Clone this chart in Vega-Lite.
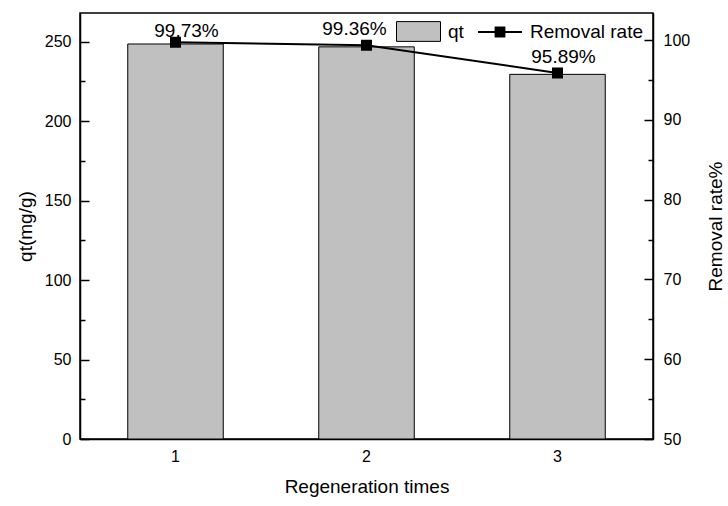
{
  "$schema": "https://vega.github.io/schema/vega-lite/v6.json",
  "width": 573,
  "height": 426,
  "autosize": {"type": "none"},
  "padding": {"left": 80, "top": 13, "right": 75, "bottom": 67},
  "background": "white",
  "config": {
    "font": "Liberation Sans",
    "view": {"stroke": "black", "strokeWidth": 1.5},
    "axis": {
      "grid": false,
      "domainColor": "black",
      "domainWidth": 1.5,
      "tickColor": "black",
      "tickWidth": 1.5,
      "labelColor": "black",
      "labelFontSize": 16,
      "titleColor": "black",
      "titleFontSize": 19,
      "titleFontWeight": "normal"
    },
    "legend": {
      "orient": "none",
      "direction": "horizontal",
      "padding": 0,
      "labelFontSize": 19,
      "labelColor": "black",
      "labelOffset": 7,
      "symbolSize": 1936,
      "symbolOpacity": 1
    }
  },
  "data": {
    "values": [
      {"n": "1", "qt": 248.5, "rate": 99.73, "label": "99.73%"},
      {"n": "2", "qt": 246.7, "rate": 99.36, "label": "99.36%"},
      {"n": "3", "qt": 229.4, "rate": 95.89, "label": "95.89%"}
    ]
  },
  "encoding": {
    "x": {
      "field": "n",
      "type": "ordinal",
      "scale": {"paddingInner": 0.5, "paddingOuter": 0.25},
      "axis": {
        "title": "Regeneration times",
        "labelAngle": 0,
        "tickSize": -9,
        "labelPadding": 18,
        "titlePadding": 13
      }
    }
  },
  "layer": [
    {
      "mark": {"type": "bar", "stroke": "black", "strokeWidth": 1},
      "encoding": {
        "y": {
          "field": "qt",
          "type": "quantitative",
          "scale": {"domain": [0, 268], "nice": false},
          "axis": {
            "orient": "left",
            "title": "qt(mg/g)",
            "values": [0, 50, 100, 150, 200, 250],
            "tickSize": -9,
            "labelPadding": 18,
            "titlePadding": 9
          }
        },
        "fill": {
          "datum": "qt",
          "scale": {"domain": ["qt"], "range": ["#c0c0c0"]},
          "legend": {
            "title": null,
            "legendX": 316,
            "legendY": -4,
            "symbolType": "M-1,-0.45H1V0.45H-1Z",
            "symbolStrokeColor": "black",
            "symbolStrokeWidth": 1
          }
        }
      }
    },
    {
      "mark": {"type": "bar", "opacity": 0},
      "encoding": {
        "y": {
          "field": "qt",
          "type": "quantitative",
          "scale": {"domain": [0, 268], "nice": false},
          "axis": {
            "orient": "left",
            "title": null,
            "values": [25, 75, 125, 175, 225],
            "labels": false,
            "domain": false,
            "tickSize": -5
          }
        }
      }
    },
    {
      "mark": {"type": "line", "strokeWidth": 2, "point": {"filled": true, "shape": "square", "size": 81, "color": "black", "opacity": 1}},
      "encoding": {
        "y": {
          "field": "rate",
          "type": "quantitative",
          "scale": {"domain": [50, 103.4], "nice": false, "zero": false},
          "axis": {
            "orient": "right",
            "title": "Removal rate%",
            "titleAngle": 270,
            "values": [50, 60, 70, 80, 90, 100],
            "tickSize": -9,
            "labelPadding": 19,
            "titlePadding": 36
          }
        },
        "stroke": {
          "datum": "Removal rate",
          "scale": {"domain": ["Removal rate"], "range": ["#000000"]},
          "legend": {
            "title": null,
            "legendX": 397,
            "legendY": -4,
            "symbolType": "M-1,0H1M-0.2,-0.2H0.2V0.2H-0.2Z",
            "symbolFillColor": "black",
            "symbolStrokeWidth": 2
          }
        }
      }
    },
    {
      "mark": {"type": "bar", "opacity": 0},
      "encoding": {
        "y": {
          "field": "rate",
          "type": "quantitative",
          "scale": {"domain": [50, 103.4], "nice": false, "zero": false},
          "axis": {
            "orient": "right",
            "title": null,
            "values": [55, 65, 75, 85, 95],
            "labels": false,
            "domain": false,
            "tickSize": -5
          }
        }
      }
    },
    {
      "transform": [{"filter": "datum.n === '1'"}],
      "mark": {"type": "text", "fontSize": 19, "color": "black", "baseline": "alphabetic", "dx": 11, "dy": -5},
      "encoding": {
        "y": {"field": "rate", "type": "quantitative", "scale": {"domain": [50, 103.4], "nice": false, "zero": false}, "axis": null},
        "text": {"field": "label"}
      }
    },
    {
      "transform": [{"filter": "datum.n === '2'"}],
      "mark": {"type": "text", "fontSize": 19, "color": "black", "baseline": "alphabetic", "dx": -12, "dy": -10},
      "encoding": {
        "y": {"field": "rate", "type": "quantitative", "scale": {"domain": [50, 103.4], "nice": false, "zero": false}, "axis": null},
        "text": {"field": "label"}
      }
    },
    {
      "transform": [{"filter": "datum.n === '3'"}],
      "mark": {"type": "text", "fontSize": 19, "color": "black", "baseline": "alphabetic", "dx": 6, "dy": -10},
      "encoding": {
        "y": {"field": "rate", "type": "quantitative", "scale": {"domain": [50, 103.4], "nice": false, "zero": false}, "axis": null},
        "text": {"field": "label"}
      }
    }
  ],
  "resolve": {"scale": {"y": "independent"}, "axis": {"y": "independent"}}
}
